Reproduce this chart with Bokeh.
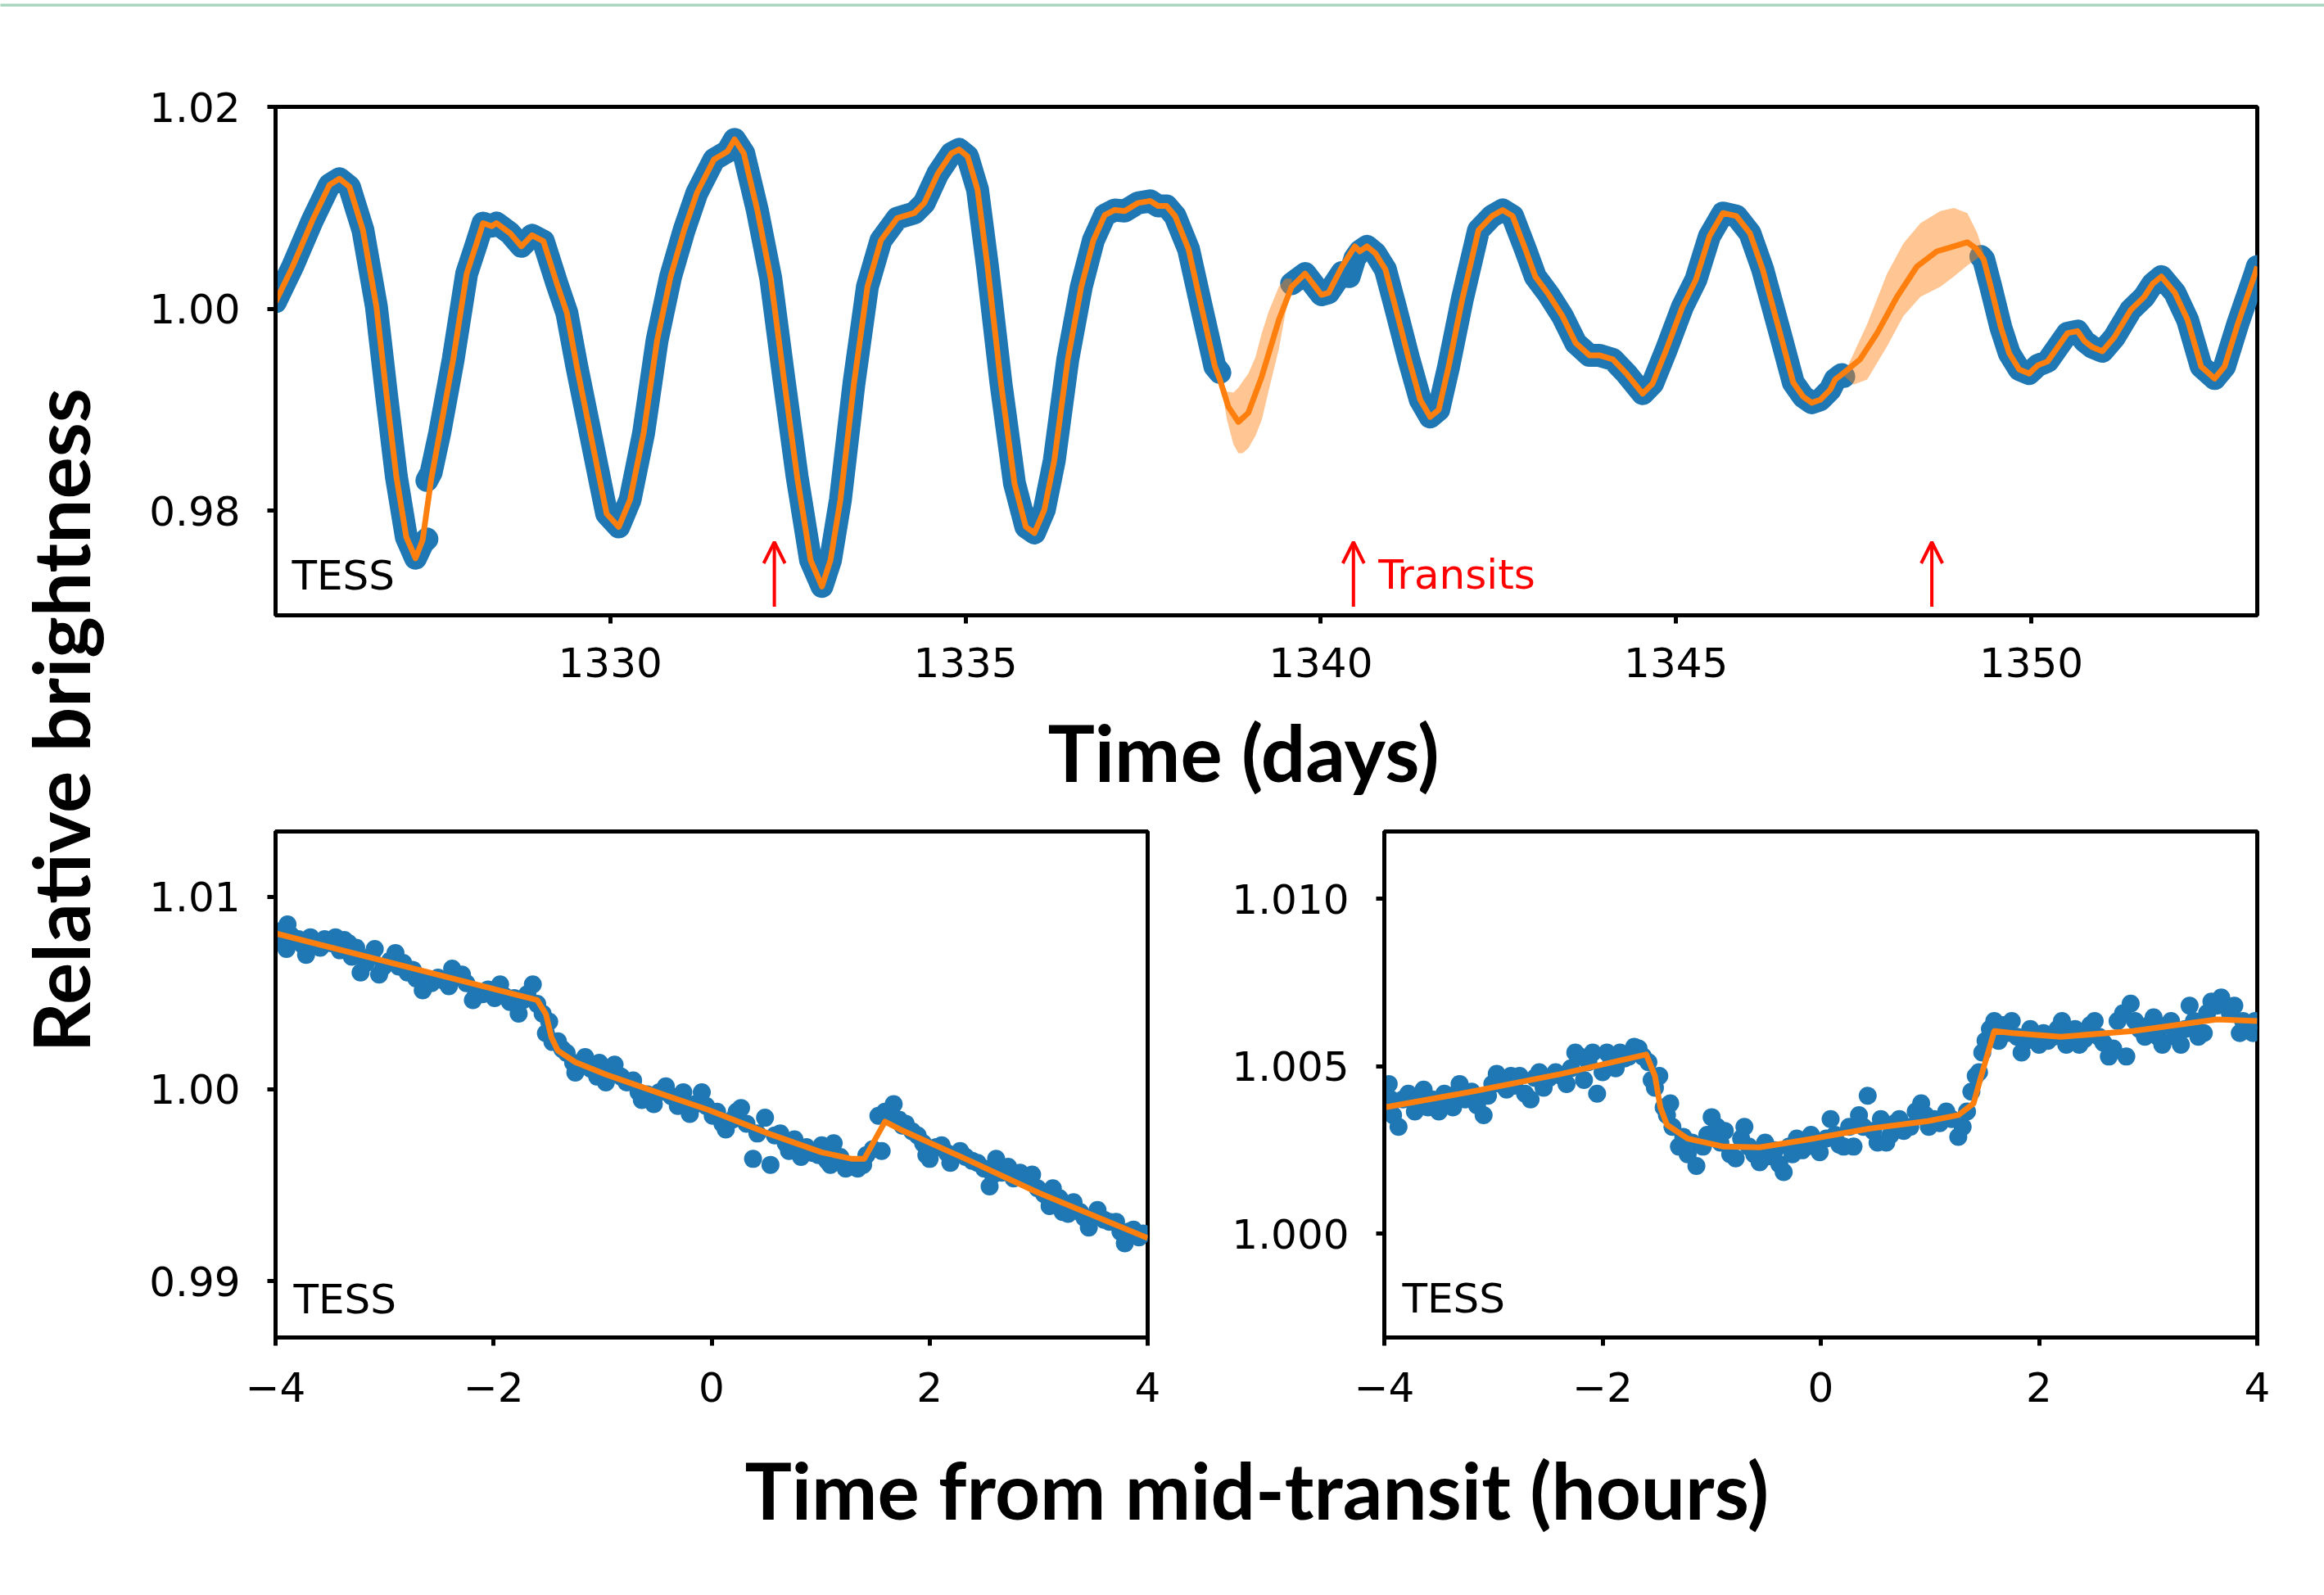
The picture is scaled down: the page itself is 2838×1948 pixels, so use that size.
import math
from bokeh.plotting import figure
from bokeh.layouts import column, row
from bokeh.models import Range1d, FixedTicker, PrintfTickFormatter, Arrow, OpenHead, ColumnDataSource
from bokeh.core.properties import value
from bokeh.embed import file_html
from bokeh.resources import INLINE

nan = float("nan")
BLUE = "#1f77b4"
ORANGE = "#ff7f0e"
GREEN = "#a9d6bf"

# ---------------- top panel: TESS light curve ----------------
tess_t = [
    1325.29, 1325.53, 1325.81, 1326.05, 1326.19, 1326.33, 1326.52, 1326.71, 1326.85, 1326.99, 1327.13, 1327.26, 1327.36, 1327.42, nan,
    1327.42, 1327.48, 1327.60, 1327.79, 1327.98, 1328.12, 1328.21, 1328.33, 1328.40, 1328.59,
    1328.75, 1328.90, 1329.06, 1329.25, 1329.39, 1329.53, 1329.72, 1329.95, 1330.12, 1330.28,
    1330.47, 1330.66, 1330.85, 1331.04, 1331.22, 1331.46, 1331.65, 1331.75, 1331.88, 1332.07,
    1332.26, 1332.44, 1332.63, 1332.82, 1332.98, 1333.10, 1333.24, 1333.43, 1333.62, 1333.81,
    1334.04, 1334.28, 1334.42, 1334.61, 1334.80, 1334.91, 1335.03, 1335.17, 1335.31, 1335.50,
    1335.69, 1335.85, 1335.97, 1336.11, 1336.25, 1336.44, 1336.63, 1336.80, 1336.96, 1337.10,
    1337.24, 1337.43, 1337.60, 1337.71, 1337.83, 1337.95, 1338.14, 1338.32, 1338.51, 1338.58, nan,
    1339.59, 1339.78, 1340.01, 1340.11, 1340.30, 1340.40, 1340.48, 1340.55, 1340.65, 1340.77,
    1340.91, 1341.05, 1341.24, 1341.40, 1341.54, 1341.66, 1341.80, 1341.99, 1342.22, 1342.41,
    1342.56, 1342.70, 1342.88, 1343.02, 1343.21, 1343.40, 1343.59, 1343.78, 1343.92, 1344.11,
    1344.30, 1344.53, 1344.67, 1344.86, 1345.09, 1345.28, 1345.47, 1345.66, 1345.85, 1346.04,
    1346.22, 1346.46, 1346.65, 1346.79, 1346.91, 1347.03, 1347.17, 1347.24, 1347.33, 1347.36, nan,
    1349.29, 1349.33, 1349.43, 1349.57, 1349.69, 1349.83, 1349.97, 1350.09, 1350.23, 1350.37,
    1350.51, 1350.65, 1350.75, 1350.86, 1351.00, 1351.17, 1351.40, 1351.59, 1351.71, 1351.83,
    1352.02, 1352.20, 1352.39, 1352.58, 1352.72, 1352.91, 1353.15, 1353.18,
]
tess_f = [
    1.0007, 1.0042, 1.0088, 1.0123, 1.0129, 1.0121, 1.0078, 1.0002, 0.9916, 0.9834, 0.9774, 0.9753, 0.9768, 0.9772, nan,
    0.9830, 0.9838, 0.9877, 0.9950, 1.0035, 1.0065, 1.0085, 1.0082, 1.0085, 1.0075,
    1.0062, 1.0073, 1.0067, 1.0025, 0.9996, 0.9943, 0.9877, 0.9797, 0.9784, 0.9811,
    0.9877, 0.9969, 1.0032, 1.0078, 1.0115, 1.0148, 1.0156, 1.0168, 1.0154, 1.0098,
    1.0030, 0.9933, 0.9834, 0.9751, 0.9725, 0.9751, 0.9811, 0.9926, 1.0022, 1.0068,
    1.0090, 1.0095, 1.0105, 1.0134, 1.0154, 1.0158, 1.0151, 1.0118, 1.0042, 0.9926,
    0.9827, 0.9784, 0.9778, 0.9801, 0.9850, 0.9950, 1.0022, 1.0068, 1.0093, 1.0098,
    1.0097, 1.0105, 1.0107, 1.0102, 1.0102, 1.0092, 1.0059, 1.0002, 0.9943, 0.9937, nan,
    1.0025, 1.0035, 1.0014, 1.0016, 1.0036, 1.0032, 1.0050, 1.0057, 1.0062, 1.0055,
    1.0039, 1.0002, 0.9950, 0.9910, 0.9893, 0.9900, 0.9943, 1.0009, 1.0078, 1.0092,
    1.0098, 1.0092, 1.0059, 1.0032, 1.0014, 0.9993, 0.9966, 0.9954, 0.9954, 0.9950,
    0.9936, 0.9916, 0.9926, 0.9959, 1.0002, 1.0029, 1.0072, 1.0095, 1.0092, 1.0075,
    1.0039, 0.9977, 0.9927, 0.9913, 0.9907, 0.9910, 0.9920, 0.9930, 0.9935, 0.9933, nan,
    1.0052, 1.0049, 1.0022, 0.9982, 0.9956, 0.9940, 0.9936, 0.9944, 0.9948, 0.9962,
    0.9976, 0.9978, 0.9968, 0.9962, 0.9958, 0.9972, 0.9999, 1.0012, 1.0025, 1.0032,
    1.0016, 0.9989, 0.9943, 0.9931, 0.9943, 0.9986, 1.0035, 1.0042,
]

model_t = [
    1325.29, 1325.53, 1325.81, 1326.05, 1326.19, 1326.33, 1326.52, 1326.71, 1326.85, 1326.99, 1327.13, 1327.26, 1327.36,
    1327.48, 1327.60, 1327.79, 1327.98, 1328.12, 1328.21, 1328.33, 1328.40, 1328.59,
    1328.75, 1328.90, 1329.06, 1329.25, 1329.39, 1329.53, 1329.72, 1329.95, 1330.12, 1330.28,
    1330.47, 1330.66, 1330.85, 1331.04, 1331.22, 1331.46, 1331.65, 1331.75, 1331.88, 1332.07,
    1332.26, 1332.44, 1332.63, 1332.82, 1332.98, 1333.10, 1333.24, 1333.43, 1333.62, 1333.81,
    1334.04, 1334.28, 1334.42, 1334.61, 1334.80, 1334.91, 1335.03, 1335.17, 1335.31, 1335.50,
    1335.69, 1335.85, 1335.97, 1336.11, 1336.25, 1336.44, 1336.63, 1336.80, 1336.96, 1337.10,
    1337.24, 1337.43, 1337.60, 1337.71, 1337.83, 1337.95, 1338.14, 1338.32, 1338.51, 1338.58,
    1338.70, 1338.84, 1338.98, 1339.17, 1339.41,
    1339.59, 1339.78, 1340.01, 1340.11, 1340.30, 1340.48, 1340.55, 1340.65, 1340.77,
    1340.91, 1341.05, 1341.24, 1341.40, 1341.54, 1341.66, 1341.80, 1341.99, 1342.22, 1342.41,
    1342.56, 1342.70, 1342.88, 1343.02, 1343.21, 1343.40, 1343.59, 1343.78, 1343.92, 1344.11,
    1344.30, 1344.53, 1344.67, 1344.86, 1345.09, 1345.28, 1345.47, 1345.66, 1345.85, 1346.04,
    1346.22, 1346.46, 1346.65, 1346.79, 1346.91, 1347.03, 1347.17, 1347.24, 1347.33,
    1347.59, 1347.83, 1348.11, 1348.39, 1348.67, 1348.91, 1349.10, 1349.22,
    1349.33, 1349.43, 1349.57, 1349.69, 1349.83, 1349.97, 1350.09, 1350.23, 1350.37,
    1350.51, 1350.65, 1350.75, 1350.86, 1351.00, 1351.17, 1351.40, 1351.59, 1351.71, 1351.83,
    1352.02, 1352.20, 1352.39, 1352.58, 1352.72, 1352.91, 1353.15, 1353.18,
]
model_f = [
    1.0007, 1.0042, 1.0088, 1.0123, 1.0129, 1.0121, 1.0078, 1.0002, 0.9916, 0.9834, 0.9774, 0.9753, 0.9771,
    0.9831, 0.9877, 0.9950, 1.0035, 1.0065, 1.0085, 1.0082, 1.0085, 1.0075,
    1.0062, 1.0073, 1.0067, 1.0025, 0.9996, 0.9943, 0.9877, 0.9797, 0.9784, 0.9811,
    0.9877, 0.9969, 1.0032, 1.0078, 1.0115, 1.0148, 1.0156, 1.0168, 1.0154, 1.0098,
    1.0030, 0.9933, 0.9834, 0.9751, 0.9725, 0.9751, 0.9811, 0.9926, 1.0022, 1.0068,
    1.0090, 1.0095, 1.0105, 1.0134, 1.0154, 1.0158, 1.0151, 1.0118, 1.0042, 0.9926,
    0.9827, 0.9784, 0.9778, 0.9801, 0.9850, 0.9950, 1.0022, 1.0068, 1.0093, 1.0098,
    1.0097, 1.0105, 1.0107, 1.0102, 1.0102, 1.0092, 1.0059, 1.0002, 0.9943, 0.9930,
    0.9903, 0.9888, 0.9897, 0.9933, 0.9989,
    1.0022, 1.0035, 1.0014, 1.0016, 1.0042, 1.0062, 1.0057, 1.0062, 1.0055,
    1.0039, 1.0002, 0.9950, 0.9910, 0.9893, 0.9900, 0.9943, 1.0009, 1.0078, 1.0092,
    1.0098, 1.0092, 1.0059, 1.0032, 1.0014, 0.9993, 0.9966, 0.9954, 0.9954, 0.9950,
    0.9936, 0.9916, 0.9926, 0.9959, 1.0002, 1.0029, 1.0072, 1.0095, 1.0092, 1.0075,
    1.0039, 0.9977, 0.9927, 0.9913, 0.9907, 0.9910, 0.9920, 0.9930, 0.9935,
    0.9950, 0.9976, 1.0012, 1.0042, 1.0057, 1.0062, 1.0066, 1.0060,
    1.0049, 1.0022, 0.9982, 0.9956, 0.9940, 0.9936, 0.9944, 0.9948, 0.9962,
    0.9976, 0.9978, 0.9968, 0.9962, 0.9958, 0.9972, 0.9999, 1.0012, 1.0025, 1.0032,
    1.0016, 0.9989, 0.9943, 0.9931, 0.9943, 0.9986, 1.0035, 1.0042,
]

# uncertainty bands of the model inside the two data gaps
gap1_t = [1338.58, 1338.68, 1338.77, 1338.84, 1338.90, 1338.98, 1339.08, 1339.17, 1339.27, 1339.41, 1339.50, 1339.59]
gap1_hi = [0.9933, 0.9918, 0.9917, 0.9922, 0.9928, 0.9936, 0.9952, 0.9976, 0.9998, 1.0022, 1.0030, 1.0030]
gap1_lo = [0.9933, 0.9890, 0.9866, 0.9857, 0.9857, 0.9862, 0.9874, 0.9890, 0.9920, 0.9960, 0.9995, 1.0020]
gap2_t = [1347.36, 1347.50, 1347.69, 1347.97, 1348.20, 1348.44, 1348.72, 1348.91, 1349.10, 1349.24, 1349.33]
gap2_hi = [0.9935, 0.9956, 0.9985, 1.0035, 1.0065, 1.0085, 1.0097, 1.0100, 1.0095, 1.0075, 1.0055]
gap2_lo = [0.9934, 0.9925, 0.9930, 0.9963, 0.9993, 1.0012, 1.0022, 1.0032, 1.0043, 1.0050, 1.0055]

transit_t = [1332.31, 1340.46, 1348.60]

top_xticks = [1330, 1335, 1340, 1345, 1350]
top_yticks = [0.98, 1.00, 1.02]

# ---------------- bottom-left transit ----------------
tr1_x = [
    -3.97, -3.93, -3.89, -3.86, -3.90, -3.79, -3.75, -3.72, -3.68, -3.63, -3.59, -3.55, -3.49, -3.45, -3.41, -3.37,
    -3.33, -3.30, -3.26, -3.22, -3.17, -3.12, -3.09, -3.05, -3.01, -2.95, -2.90, -2.87, -2.83, -2.79, -2.74, -2.71,
    -2.65, -2.62, -2.57, -2.51, -2.46, -2.41, -2.38, -2.34, -2.29, -2.25, -2.19, -2.16, -2.10, -2.05, -1.99, -1.94,
    -1.90, -1.85, -1.81, -1.77, -1.73, -1.69, -1.64, -1.60,
    -1.55, -1.52, -1.49, -1.46, -1.41, -1.37, -1.33, -1.27, -1.25, -1.20, -1.16, -1.11, -1.05, -1.03, -0.97, -0.93,
    -0.89, -0.83, -0.78, -0.72, -0.67, -0.64, -0.59, -0.53, -0.48, -0.42, -0.37, -0.31, -0.26, -0.20, -0.15, -0.09,
    -0.05, 0.01, 0.05, 0.10, 0.13, 0.19, 0.23, 0.27, 0.32, 0.38, 0.42, 0.49, 0.54, 0.58, 0.63, 0.68, 0.71, 0.76,
    0.82, 0.87, 0.93, 0.98, 1.01, 1.06, 1.09, 1.12, 1.18, 1.23, 1.29, 1.34, 1.39,
    1.42, 1.48, 1.53, 1.56, 1.59, 1.63, 1.67, 1.72,
    1.75, 1.78, 1.84, 1.89, 1.94, 1.97, 2.00, 2.06, 2.11, 2.16, 2.19, 2.23, 2.28, 2.33, 2.39, 2.44, 2.50, 2.55,
    2.58, 2.61, 2.66, 2.72, 2.77, 2.83, 2.88, 2.94, 2.99, 3.05, 3.10, 3.13, 3.19, 3.22, 3.27, 3.32, 3.38, 3.42,
    3.46, 3.50, 3.54, 3.60, 3.65, 3.71, 3.75, 3.79, 3.83, 3.87, 3.92, 3.96,
]
tr1_f = [
    1.00820, 1.00769, 1.00857, 1.00800, 1.00729, 1.00780, 1.00749, 1.00698, 1.00790, 1.00763, 1.00735, 1.00780,
    1.00759, 1.00790, 1.00722, 1.00776, 1.00759, 1.00688, 1.00735, 1.00606, 1.00657, 1.00694, 1.00729, 1.00596,
    1.00637, 1.00667, 1.00708, 1.00637, 1.00657, 1.00606, 1.00620, 1.00576, 1.00514, 1.00565, 1.00551, 1.00580,
    1.00565, 1.00535, 1.00627, 1.00586, 1.00596, 1.00551, 1.00463, 1.00504, 1.00494, 1.00518, 1.00473, 1.00545,
    1.00484, 1.00453, 1.00473, 1.00392, 1.00463, 1.00494, 1.00545, 1.00443,
    1.00392, 1.00290, 1.00351, 1.00245, 1.00249, 1.00208, 1.00188, 1.00137, 1.00086, 1.00127, 1.00167, 1.00106,
    1.00065, 1.00137, 1.00035, 1.00086, 1.00127, 1.00065, 1.00035, 1.00045, 0.99984, 0.99943, 0.99973, 0.99922,
    0.99984, 1.00014, 0.99963, 0.99912, 0.99984, 0.99871, 0.99922, 0.99984, 0.99912, 0.99861, 0.99882, 0.99820,
    0.99790, 0.99841, 0.99882, 0.99902, 0.99820, 0.99637, 0.99769, 0.99851, 0.99606, 0.99759, 0.99769, 0.99718,
    0.99678, 0.99739, 0.99647, 0.99698, 0.99667, 0.99657, 0.99708, 0.99627, 0.99606, 0.99718, 0.99647, 0.99586,
    0.99596, 0.99586, 0.99606,
    0.99657, 0.99688, 0.99861, 0.99678, 0.99882, 0.99861, 0.99922, 0.99841,
    0.99810, 0.99820, 0.99780, 0.99759, 0.99718, 0.99657, 0.99637, 0.99698, 0.99708, 0.99667, 0.99616, 0.99657,
    0.99678, 0.99647, 0.99627, 0.99616, 0.99586, 0.99494, 0.99555, 0.99637, 0.99565, 0.99596, 0.99535, 0.99565,
    0.99535, 0.99555, 0.99484, 0.99453, 0.99392, 0.99484, 0.99433, 0.99361, 0.99351, 0.99412, 0.99361, 0.99331,
    0.99280, 0.99331, 0.99371, 0.99320, 0.99310, 0.99310, 0.99259, 0.99198, 0.99259, 0.99269, 0.99229, 0.99249,
]
fit1_x = [-4.00, -1.60, -1.52, -1.47, -1.41, -1.25, -0.97, -0.42, -0.03, 0.52, 1.01, 1.29, 1.40, 1.48, 1.59, 1.73, 2.33, 2.99, 4.00]
fit1_f = [1.0081, 1.00463, 1.0039, 1.0027, 1.0020, 1.0014, 1.00076, 0.99967, 0.99892, 0.99769, 0.99671, 0.99637,
          0.99637, 0.99718, 0.99831, 0.9979, 0.99637, 0.99463, 0.99225]

# ---------------- bottom-right transit ----------------
tr2_x = [
    -3.96, -3.94, -3.92, -3.87, -3.83, -3.78, -3.72, -3.69, -3.64, -3.60, -3.56, -3.50, -3.45, -3.42, -3.37, -3.34,
    -3.31, -3.26, -3.20, -3.15, -3.09, -3.05, -3.01, -2.97, -2.93, -2.88, -2.84, -2.81, -2.76, -2.71, -2.66, -2.62,
    -2.58, -2.54, -2.49, -2.43, -2.38, -2.33, -2.29, -2.25, -2.21, -2.17, -2.13, -2.09, -2.05, -2.00, -1.96, -1.92,
    -1.88, -1.84, -1.80, -1.76, -1.71, -1.67, -1.63,
    -1.58, -1.55, -1.52, -1.48, -1.44, -1.41, -1.38, -1.36,
    -1.30, -1.26, -1.22, -1.18, -1.14, -1.08, -1.04, -1.00, -0.95, -0.92, -0.88, -0.83, -0.78, -0.73, -0.70, -0.66,
    -0.61, -0.56, -0.51, -0.48, -0.42, -0.38, -0.34, -0.29, -0.26, -0.22, -0.17, -0.13, -0.09, -0.05, -0.01, 0.05,
    0.09, 0.13, 0.17, 0.21, 0.26, 0.30, 0.35, 0.39, 0.43, 0.48, 0.52, 0.55, 0.60, 0.64, 0.68, 0.72, 0.76, 0.82,
    0.87, 0.92, 0.96, 0.99, 1.04, 1.09, 1.15, 1.20, 1.26, 1.30, 1.34,
    1.38, 1.42, 1.45, 1.48, 1.51, 1.55,
    1.59, 1.63, 1.67, 1.71, 1.75, 1.80, 1.84, 1.88, 1.92, 1.96, 2.00, 2.04, 2.08, 2.13, 2.17, 2.21, 2.25, 2.29,
    2.33, 2.37, 2.42, 2.47, 2.51, 2.55, 2.59, 2.64, 2.68, 2.72, 2.77, 2.80, 2.84, 2.88, 2.92, 2.97, 3.01, 3.05,
    3.09, 3.13, 3.18, 3.21, 3.25, 3.30, 3.34, 3.38, 3.42, 3.46, 3.51, 3.54, 3.58, 3.63, 3.67, 3.71, 3.75, 3.79,
    3.84, 3.87, 3.91, 3.96, 3.98,
]
tr2_f = [
    1.00447, 1.00401, 1.00354, 1.00319, 1.00401, 1.00418, 1.00365, 1.00401, 1.00430, 1.00377, 1.00401, 1.00365,
    1.00418, 1.00389, 1.00377, 1.00418, 1.00447, 1.00401, 1.00424, 1.00383, 1.00354, 1.00412, 1.00447, 1.00477,
    1.00447, 1.00430, 1.00471, 1.00442, 1.00471, 1.00418, 1.00401, 1.00465, 1.00482, 1.00436, 1.00465, 1.00482,
    1.00471, 1.00447, 1.00494, 1.00541, 1.00529, 1.00459, 1.00512, 1.00541, 1.00418, 1.00482, 1.00541, 1.00518,
    1.00494, 1.00541, 1.00523, 1.00529, 1.00558, 1.00553, 1.00529,
    1.00512, 1.00459, 1.00436, 1.00471, 1.00377, 1.00354, 1.00389, 1.00319,
    1.00260, 1.00289, 1.00237, 1.00272, 1.00202, 1.00260, 1.00295, 1.00348, 1.00319, 1.00272, 1.00307, 1.00237,
    1.00225, 1.00284, 1.00319, 1.00260, 1.00237, 1.00213, 1.00272, 1.00231, 1.00249, 1.00208, 1.00184, 1.00260,
    1.00237, 1.00284, 1.00249, 1.00260, 1.00295, 1.00272, 1.00243, 1.00284, 1.00342, 1.00295, 1.00266, 1.00260,
    1.00319, 1.00260, 1.00354, 1.00319, 1.00412, 1.00307, 1.00272, 1.00342, 1.00272, 1.00295, 1.00330, 1.00342,
    1.00307, 1.00319, 1.00365, 1.00389, 1.00354, 1.00319, 1.00342, 1.00330, 1.00365, 1.00342, 1.00289, 1.00319,
    1.00365,
    1.00424, 1.00471, 1.00482, 1.00541, 1.00576, 1.00611,
    1.00635, 1.00576, 1.00623, 1.00599, 1.00635, 1.00588, 1.00541, 1.00576, 1.00611, 1.00588, 1.00564, 1.00599,
    1.00576, 1.00588, 1.00611, 1.00635, 1.00564, 1.00588, 1.00611, 1.00564, 1.00582, 1.00623, 1.00635, 1.00588,
    1.00570, 1.00529, 1.00553, 1.00635, 1.00658, 1.00529, 1.00687, 1.00635, 1.00611, 1.00588, 1.00623, 1.00646,
    1.00588, 1.00564, 1.00623, 1.00635, 1.00588, 1.00564, 1.00611, 1.00681, 1.00635, 1.00588, 1.00599, 1.00658,
    1.00693, 1.00681, 1.00705, 1.00681, 1.00658, 1.00681, 1.00599, 1.00635, 1.00617, 1.00599, 1.00635,
]
fit2_x = [-4.00, -3.20, -2.38, -1.60, -1.52, -1.47, -1.41, -1.22, -0.89, -0.56, -0.12, 0.43, 0.98, 1.26, 1.40,
          1.48, 1.59, 1.76, 2.20, 2.86, 3.63, 4.00]
fit2_f = [1.00377, 1.00424, 1.00477, 1.00535, 1.00471, 1.00377, 1.00325, 1.00284, 1.00260, 1.00258, 1.00281,
          1.00313, 1.00336, 1.00354, 1.00389, 1.00482, 1.00605, 1.00599, 1.00588, 1.00605, 1.00640, 1.00635]

hour_ticks = [-4, -2, 0, 2, 4]
hour_labels = {-4: "\u22124", -2: "\u22122", 0: "0", 2: "2", 4: "4"}
bl_yticks = [0.99, 1.00, 1.01]
br_yticks = [1.000, 1.005, 1.010]

TICK_FONT = "DejaVu Sans"
TITLE_FONT = "Lato"
TITLE_STYLE = "bold"
TITLE_SIZE = "96px"
FIT_WIDTH = 7


def style(p, xticks, yticks, yfmt, xover=None, xstand=32):
    p.grid.visible = False
    p.outline_line_color = "black"
    p.outline_line_width = 5
    for ax in (p.xaxis[0], p.yaxis[0]):
        ax.axis_line_width = 5
        ax.axis_line_color = "black"
        ax.major_tick_line_width = 5
        ax.major_tick_line_color = "black"
        ax.major_tick_out = 10
        ax.major_tick_in = 0
        ax.minor_tick_line_color = None
        ax.major_label_text_font = TICK_FONT
        ax.major_label_text_font_size = "50px"
        ax.major_label_text_color = "black"
    p.xaxis.ticker = FixedTicker(ticks=xticks)
    p.yaxis.ticker = FixedTicker(ticks=yticks)
    if xover:
        p.xaxis.major_label_overrides = xover
    p.yaxis.formatter = PrintfTickFormatter(format=yfmt)
    p.xaxis.major_label_standoff = xstand
    p.yaxis.major_label_standoff = 33


def blank(w, h, xr, bg="white", left=0, right=0):
    p = figure(width=w, height=h, x_range=Range1d(*xr), y_range=Range1d(0, h),
               x_axis_type=None, y_axis_type=None, min_border=0,
               min_border_left=left, min_border_right=right,
               toolbar_location=None, output_backend="svg")
    p.outline_line_color = None
    p.grid.visible = False
    p.background_fill_color = bg
    p.border_fill_color = bg
    return p


def small_text(p, x, y, txt, color="black"):
    p.text(x=[x], y=[y], text=[txt], text_font=value(TICK_FONT), text_font_size=value("50px"),
           text_align="left", text_baseline="alphabetic", text_color=color)


# ---- top figure ----
top = figure(width=2688, height=852, x_range=Range1d(1325.29, 1353.18), y_range=Range1d(0.96964, 1.02002),
             min_border_left=186, min_border_right=82, min_border_top=122, min_border_bottom=109,
             toolbar_location=None, output_backend="svg")
style(top, top_xticks, top_yticks, "%.2f", xstand=29)
top.line(tess_t, tess_f, line_color=BLUE, line_width=28, line_join="round", line_cap="round")
top.varea(x=gap1_t, y1=gap1_lo, y2=gap1_hi, fill_color=ORANGE, fill_alpha=0.45)
top.varea(x=gap2_t, y1=gap2_lo, y2=gap2_hi, fill_color=ORANGE, fill_alpha=0.45)
top.line(model_t, model_f, line_color=ORANGE, line_width=FIT_WIDTH, line_join="round")
arrow_src = ColumnDataSource(dict(x0=transit_t, x1=transit_t,
                                  y0=[0.9705] * len(transit_t), y1=[0.9769] * len(transit_t)))
top.add_layout(Arrow(end=OpenHead(size=26, line_color="red", line_width=4),
                     x_start="x0", y_start="y0", x_end="x1", y_end="y1", source=arrow_src,
                     line_color="red", line_width=4))
small_text(top, 1325.52, 0.97361, "TESS")
small_text(top, 1340.81, 0.97367, "Transits", "red")

# ---- bottom left ----
bl = figure(width=1300, height=770, x_range=Range1d(-4, 4), y_range=Range1d(0.98708, 1.01340),
            min_border_left=186, min_border_right=49, min_border_top=25, min_border_bottom=127,
            toolbar_location=None, output_backend="svg")
style(bl, hour_ticks, bl_yticks, "%.2f", hour_labels)
bl.scatter(tr1_x, tr1_f, size=22, fill_color=BLUE, line_color=None)
bl.line(fit1_x, fit1_f, line_color=ORANGE, line_width=FIT_WIDTH, line_join="round")
small_text(bl, -3.835, 0.98908, "TESS")

# ---- bottom right ----
br = figure(width=1388, height=770, x_range=Range1d(-4, 4), y_range=Range1d(0.99690, 1.01201),
            min_border_left=240, min_border_right=82, min_border_top=25, min_border_bottom=127,
            toolbar_location=None, output_backend="svg")
style(br, hour_ticks, br_yticks, "%.3f", hour_labels)
br.scatter(tr2_x, tr2_f, size=22, fill_color=BLUE, line_color=None)
br.line(fit2_x, fit2_f, line_color=ORANGE, line_width=FIT_WIDTH, line_join="round")
small_text(br, -3.835, 0.99807, "TESS")

# ---- label figures (x coordinates are page pixels of the aligned frame 336..2756) ----
band = blank(2838, 8, (0, 2838), GREEN)


def title_text(p, x, y, txt, angle=0.0):
    p.text(x=[x], y=[y], text=[txt], angle=angle, text_font=value(TITLE_FONT), text_font_size=value(TITLE_SIZE),
           text_font_style=TITLE_STYLE, text_align="left", text_baseline="alphabetic", text_color="black")


ylab = blank(150, 1940, (0, 150))
title_text(ylab, 72, 663, "Relative brightness", angle=math.pi / 2)

xlab1 = blank(2688, 130, (336, 2756), left=186, right=82)
title_text(xlab1, 1279, 73, "Time (days)")

xlab2 = blank(2688, 188, (336, 2756), left=186, right=82)
title_text(xlab2, 909, 130, "Time from mid-transit (hours)")

layout = column(
    band,
    row(ylab, column(top, xlab1, row(bl, br, spacing=0), xlab2, spacing=0), spacing=0),
    spacing=0,
)

open("out.html", "w").write(file_html(layout, INLINE))
